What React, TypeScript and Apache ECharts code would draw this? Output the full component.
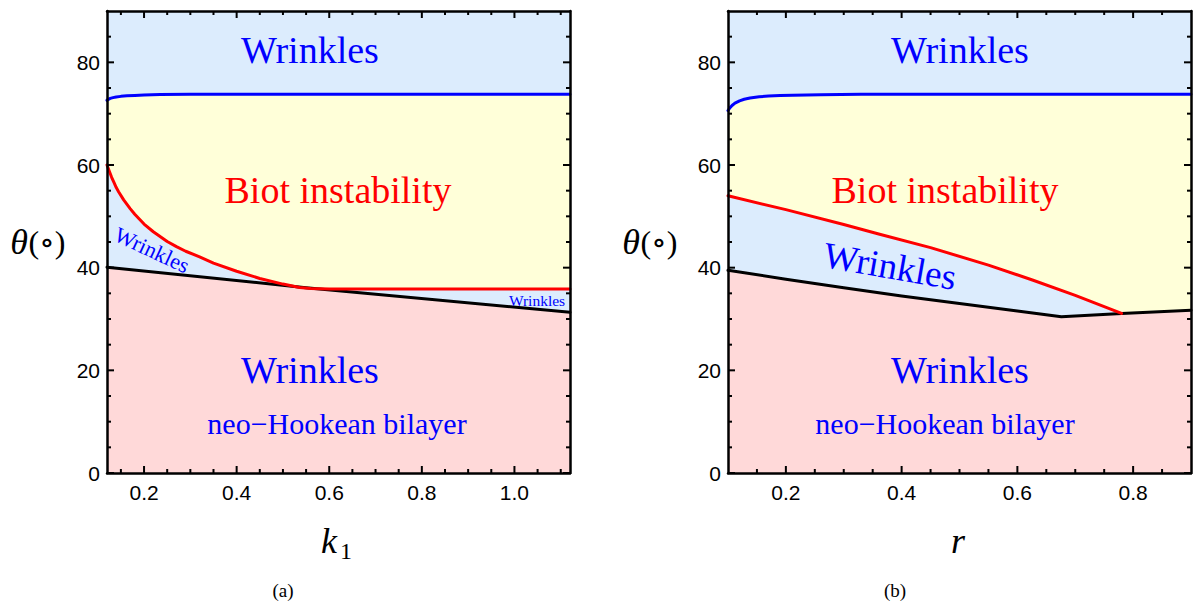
import React, { useEffect, useRef } from "react";
import * as echarts from "echarts";

// ---------- data: panel (a), x = k1 ----------
const aBlueX = [0.12, 0.123, 0.127, 0.133, 0.14, 0.15, 0.163, 0.18, 0.2, 0.235, 0.3, 1.12];
const aBlueY = [72.6, 72.8, 72.98, 73.12, 73.25, 73.37, 73.47, 73.56, 73.64, 73.72, 73.78, 73.8];
const aRedX = [0.12, 0.125, 0.13, 0.135, 0.14, 0.145, 0.156, 0.17, 0.18, 0.2, 0.22, 0.25, 0.27, 0.29, 0.32, 0.35, 0.4, 0.45, 0.5, 0.536, 0.56, 0.6, 1.12];
const aRedY = [60, 58.8, 57.6, 56.6, 55.6, 54.8, 53.2, 51.5, 50.4, 48.5, 47.0, 45.1, 44.1, 43.2, 42.1, 40.9, 39.3, 37.9, 36.8, 36.15, 35.92, 35.85, 35.85];
const aBlackX = [0.12, 0.55, 1.12];
const aBlackY = [40.1, 36.1, 31.3];

// ---------- data: panel (b), x = r ----------
const bBlueX = [0.1, 0.103, 0.107, 0.112, 0.12, 0.128, 0.138, 0.154, 0.17, 0.19, 0.212, 0.26, 0.33, 0.9];
const bBlueY = [70.6, 71.1, 71.6, 72.05, 72.5, 72.8, 73.05, 73.28, 73.42, 73.53, 73.61, 73.7, 73.76, 73.8];
const bRedX = [0.1, 0.2, 0.3, 0.362, 0.45, 0.55, 0.626, 0.7, 0.78];
const bRedY = [54, 51.3, 48.4, 46.5, 43.9, 40.5, 37.6, 34.6, 31.1];
const bBlackX = [0.1, 0.2, 0.3, 0.4, 0.5, 0.6, 0.676, 0.78, 0.9];
const bBlackY = [39.5, 37.75, 36.1, 34.5, 33.0, 31.55, 30.45, 31.05, 31.7];

// ---------- ticks ----------
const aXMajor = [0.2, 0.4, 0.6, 0.8, 1.0];
const aXMinor = [0.15, 0.25, 0.3, 0.35, 0.45, 0.5, 0.55, 0.65, 0.7, 0.75, 0.85, 0.9, 0.95, 1.05, 1.1];
const bXMajor = [0.2, 0.4, 0.6, 0.8];
const bXMinor = [0.15, 0.25, 0.3, 0.35, 0.45, 0.5, 0.55, 0.65, 0.7, 0.75, 0.85];
const yMajor = [0, 20, 40, 60, 80];
const yMinor = [5, 10, 15, 25, 30, 35, 45, 50, 55, 65, 70, 75, 85];

const C_LIGHTBLUE = "#dcecfd";
const C_YELLOW = "#ffffd9";
const C_PINK = "#ffd9d9";
const SERIF = "'Liberation Serif', 'DejaVu Serif', serif";
const SANS = "'Liberation Sans', Arial, sans-serif";

const zip = (xs: number[], ys: number[]) => xs.map((x, i) => [x, ys[i]]);

function axisPair(gridIndex: number, isX: boolean, min: number, max: number, major: number[], fmt: (v: number) => string) {
  const base = {
    type: "value",
    gridIndex,
    min,
    max,
    z: 10,
    splitLine: { show: false },
    axisTick: { show: false },
    axisLine: { show: true, onZero: false, lineStyle: { color: "#000", width: 2.5 } },
  };
  return [
    {
      ...base,
      position: isX ? "bottom" : "left",
      axisLabel: {
        show: true,
        customValues: major,
        formatter: (v: number) => fmt(v),
        color: "#000",
        fontSize: 21,
        fontFamily: SANS,
        margin: isX ? 9 : 7,
      },
    },
    { ...base, position: isX ? "top" : "right", axisLabel: { show: false } },
  ];
}

function panelSeries(axisIndex: number, blue: number[][], red: number[][], black: number[][]) {
  const area = (data: number[][], color: string) => ({
    type: "line",
    xAxisIndex: axisIndex,
    yAxisIndex: axisIndex,
    data,
    showSymbol: false,
    symbol: "none",
    silent: true,
    lineStyle: { width: 0, opacity: 0 },
    areaStyle: { color, opacity: 1, origin: "start" },
    z: 1,
  });
  const line = (data: number[][], color: string) => ({
    type: "line",
    xAxisIndex: axisIndex,
    yAxisIndex: axisIndex,
    data,
    showSymbol: false,
    symbol: "none",
    silent: true,
    lineStyle: { width: 3, color, join: "round", cap: "round" },
    z: 3,
  });
  return [
    area(blue, C_YELLOW),
    area(red, C_LIGHTBLUE),
    area(black, C_PINK),
    line(black, "#000"),
    line(red, "#ff0000"),
    line(blue, "#0000ff"),
  ];
}

function txt(text: string, x: number, y: number, size: number, color: string, opts: any = {}) {
  return {
    type: "text",
    x,
    y,
    rotation: opts.rotation || 0,
    z: 20,
    silent: true,
    style: {
      text,
      fill: color,
      font: `${opts.italic ? "italic " : ""}${size}px ${opts.family || SERIF}`,
      align: opts.align || "center",
      textAlign: opts.align || "center",
      verticalAlign: "middle",
      textVerticalAlign: "middle",
    },
  };
}

export default function App() {
  const ref = useRef<HTMLDivElement>(null);
  useEffect(() => {
    if (!ref.current) return;
    const chart = echarts.init(ref.current, null, { renderer: "svg" });
    const f1 = (v: number) => v.toFixed(1);
    const f0 = (v: number) => String(Math.round(v));
    const deg = Math.PI / 180;
    const texts: any[] = [
      // panel (a) region labels
      txt("Wrinkles", 310, 50, 38, "#0000ff"),
      txt("Biot instability", 338, 190, 38, "#ff0000"),
      txt("Wrinkles", 152, 250, 22, "#0000ff", { rotation: -25 * deg }),
      txt("Wrinkles", 537, 300, 15.5, "#0000ff"),
      txt("Wrinkles", 310, 370, 38, "#0000ff"),
      txt("neo\u2212Hookean bilayer", 337, 423, 30, "#0000ff"),
      // panel (b) region labels
      txt("Wrinkles", 960, 50, 38, "#0000ff"),
      txt("Biot instability", 945, 190, 38, "#ff0000"),
      txt("Wrinkles", 890, 266, 37, "#0000ff", { rotation: -10 * deg }),
      txt("Wrinkles", 960, 370, 38, "#0000ff"),
      txt("neo\u2212Hookean bilayer", 945, 423, 30, "#0000ff"),
      // axis titles (a)
      txt("\u03b8", 19, 242, 36, "#000", { italic: true }),
      txt("(\u2218)", 47, 242, 32, "#000"),
      txt("k", 329, 541, 36, "#000", { italic: true }),
      txt("1", 346, 551, 24, "#000"),
      txt("(a)", 283, 590, 19, "#000"),
      // axis titles (b)
      txt("\u03b8", 631, 242, 36, "#000", { italic: true }),
      txt("(\u2218)", 659, 242, 32, "#000"),
      txt("r", 958, 541, 36, "#000", { italic: true }),
      txt("(b)", 895, 590, 19, "#000"),
    ];
    const option: any = {
      animation: false,
      grid: [
        { left: 107, top: 11, right: 1197 - 570, bottom: 607 - 473, show: true, backgroundColor: C_LIGHTBLUE, borderWidth: 0 },
        { left: 728, top: 11, right: 1197 - 1191, bottom: 607 - 473, show: true, backgroundColor: C_LIGHTBLUE, borderWidth: 0 },
      ],
      xAxis: [
        ...axisPair(0, true, 0.12, 1.12, aXMajor, f1),
        ...axisPair(1, true, 0.1, 0.9, bXMajor, f1),
      ],
      yAxis: [
        ...axisPair(0, false, 0, 90, yMajor, f0),
        ...axisPair(1, false, 0, 90, yMajor, f0),
      ],
      series: [
        ...panelSeries(0, zip(aBlueX, aBlueY), zip(aRedX, aRedY), zip(aBlackX, aBlackY)),
        ...panelSeries(2, zip(bBlueX, bBlueY), zip(bRedX, bRedY), zip(bBlackX, bBlackY)),
      ],
      graphic: texts,
    };
    chart.setOption(option);

    // inward tick marks on all four sides, placed through the axes' own scales
    const ticks: any[] = [];
    const panels = [
      { ax: 0, xr: [0.12, 1.12], xMaj: aXMajor, xMin: aXMinor },
      { ax: 2, xr: [0.1, 0.9], xMaj: bXMajor, xMin: bXMinor },
    ];
    const W = 2;
    const box = (x: number, y: number, w: number, h: number) => ({
      type: "rect",
      z: 30,
      silent: true,
      shape: { x, y, width: w, height: h },
      style: { fill: "#000" },
    });
    panels.forEach((p) => {
      const finder: any = { xAxisIndex: p.ax, yAxisIndex: p.ax };
      const px = (v: number[]) => chart.convertToPixel(finder, v) as unknown as number[];
      const addX = (v: number, len: number) => {
        const b = px([v, 0]);
        const t = px([v, 90]);
        ticks.push(box(b[0] - W / 2, b[1] - len, W, len));
        ticks.push(box(t[0] - W / 2, t[1], W, len));
      };
      const addY = (v: number, len: number) => {
        const l = px([p.xr[0], v]);
        const r = px([p.xr[1], v]);
        ticks.push(box(l[0], l[1] - W / 2, len, W));
        ticks.push(box(r[0] - len, r[1] - W / 2, len, W));
      };
      p.xMaj.forEach((v) => addX(v, 7));
      p.xMin.forEach((v) => addX(v, 4));
      yMajor.forEach((v) => addY(v, 7));
      yMinor.forEach((v) => addY(v, 4));
    });
    chart.setOption({ graphic: [...texts, ...ticks] });
    return () => chart.dispose();
  }, []);
  return (
    <div
      ref={ref}
      style={{ position: "absolute", left: 0, top: 0, width: 1197, height: 607, background: "#fff" }}
    />
  );
}
